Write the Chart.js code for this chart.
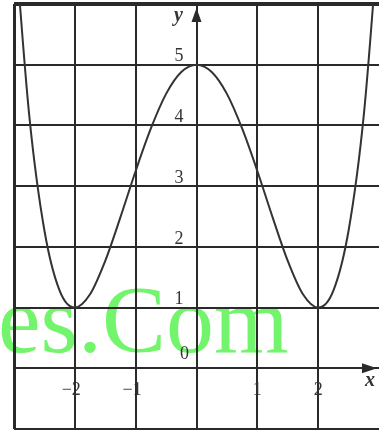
<!DOCTYPE html>
<html>
<head>
<meta charset="utf-8">
<script src="https://cdn.jsdelivr.net/npm/chart.js@4"></script>
<style>
  html, body { margin: 0; padding: 0; background: #fff; }
  #wrap { width: 379px; height: 430px; position: relative; }
</style>
</head>
<body>
<div id="wrap"><canvas id="chart"></canvas></div>
<script>
// curve points
const xValues = [-3, -2.75, -2.5, -2.25, -2, -1.75, -1.5, -1.25, -1, -0.75, -0.5, -0.25, 0,
                 0.25, 0.5, 0.75, 1, 1.25, 1.5, 1.75, 2, 2.25, 2.5, 2.75, 3];
const yValues = [7.25, 4.17, 2.27, 1.28, 1, 1.22, 1.77, 2.49, 3.25, 3.95, 4.52, 4.88, 5,
                 4.88, 4.52, 3.95, 3.25, 2.49, 1.77, 1.22, 1, 1.28, 2.27, 4.17, 7.25];

// tick labels
const xTickValues = [-2, -1, 1, 2];
const xTickLabels = ["\u22122", "\u22121", "1", "2"];
const yTickValues = [1, 2, 3, 4, 5];
const yTickLabels = ["1", "2", "3", "4", "5"];
const originLabel = "0";
const watermark = "es.Com";

const INK = "#2a2a2a";
const SERIF = "'Liberation Serif', 'DejaVu Serif', serif";

// watermark sits under the grid
const watermarkPlugin = {
  id: "watermark",
  beforeDraw(chart) {
    const ctx = chart.ctx;
    ctx.save();
    ctx.font = "96px " + SERIF;
    ctx.fillStyle = "#72f56c";
    ctx.textAlign = "left";
    ctx.textBaseline = "alphabetic";
    ctx.fillText(watermark, -2, 352);
    ctx.restore();
  }
};

// axes arrows and labels
const decorPlugin = {
  id: "decor",
  afterDatasetsDraw(chart) {
    const ctx = chart.ctx;
    const xs = chart.scales.x, ys = chart.scales.y;
    const x0 = xs.getPixelForValue(0), y0 = ys.getPixelForValue(0);
    ctx.save();
    ctx.fillStyle = INK;

    // y arrow
    ctx.beginPath();
    ctx.moveTo(x0, 8);
    ctx.lineTo(x0 - 5, 22);
    ctx.lineTo(x0 + 5, 22);
    ctx.closePath();
    ctx.fill();

    // x arrow
    ctx.beginPath();
    ctx.moveTo(377, y0);
    ctx.lineTo(362, y0 - 5);
    ctx.lineTo(362, y0 + 5);
    ctx.closePath();
    ctx.fill();

    ctx.font = "18px " + SERIF;
    ctx.fillStyle = "#333";
    ctx.textBaseline = "middle";
    ctx.textAlign = "right";
    yTickValues.forEach((v, i) => {
      ctx.fillText(yTickLabels[i], x0 - 13, ys.getPixelForValue(v) - 8);
    });
    ctx.textAlign = "center";
    ctx.fillText(originLabel, x0 - 12, y0 - 14);

    xTickValues.forEach((v, i) => {
      const px = xs.getPixelForValue(v);
      if (v < 0) {
        ctx.textAlign = "right";
        ctx.fillText(xTickLabels[i], px + 6, y0 + 22);
      } else {
        ctx.textAlign = "center";
        ctx.fillText(xTickLabels[i], px, y0 + 22);
      }
    });

    ctx.font = "italic bold 20px " + SERIF;
    ctx.textAlign = "center";
    ctx.fillText("y", x0 - 18, 16);
    ctx.fillText("x", 370, y0 + 13);
    ctx.restore();
  }
};

new Chart(document.getElementById("chart"), {
  type: "scatter",
  data: {
    datasets: [{
      data: xValues.map((x, i) => ({ x: x, y: yValues[i] })),
      showLine: true,
      borderColor: "#333",
      borderWidth: 2,
      pointRadius: 0,
      cubicInterpolationMode: "monotone",
      fill: false
    }]
  },
  options: {
    responsive: true,
    maintainAspectRatio: false,
    animation: false,
    layout: { padding: { left: 14, top: 4, right: 0, bottom: 1 } },
    plugins: { legend: { display: false }, tooltip: { enabled: false } },
    scales: {
      x: {
        type: "linear", min: -3, max: 3,
        ticks: { display: false, stepSize: 1 },
        border: { display: false },
        grid: {
          drawTicks: false,
          color: INK,
          lineWidth: c => {
            if (!c.tick) return 2;
            if (c.tick.value === 3) return 0;
            return c.tick.value === -3 ? 3 : 2;
          }
        }
      },
      y: {
        type: "linear", min: -1, max: 6,
        ticks: { display: false, stepSize: 1 },
        border: { display: false },
        grid: {
          drawTicks: false,
          color: INK,
          lineWidth: c => (c.tick && c.tick.value === 6 ? 4 : 2)
        }
      }
    }
  },
  plugins: [watermarkPlugin, decorPlugin]
});
</script>
</body>
</html>
